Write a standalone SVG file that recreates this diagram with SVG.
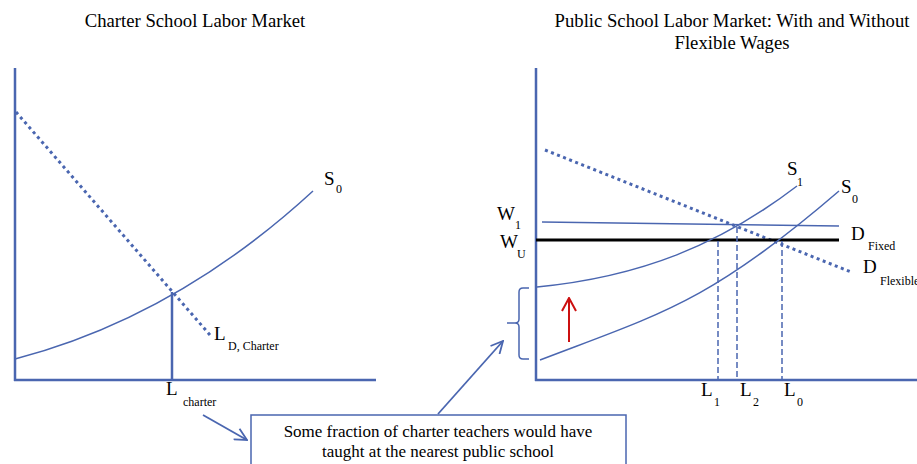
<svg xmlns="http://www.w3.org/2000/svg" width="917" height="464" viewBox="0 0 917 464">
<style>
  text { font-family: "Liberation Serif", "Times New Roman", serif; fill: #000; }
  .title { font-size: 18.7px; text-anchor: middle; }
  .lbl { font-size: 19px; }
  .sub { font-size: 12px; }
  .axis { stroke: #4a66b0; stroke-width: 2.5; fill: none; }
  .curve { stroke: #4a66b0; stroke-width: 1.5; fill: none; }
  .dotted { stroke: #4a66b0; stroke-width: 3; stroke-dasharray: 3 3.5; fill: none; }
  .dashed { stroke: #4a66b0; stroke-width: 1.5; stroke-dasharray: 6 3; fill: none; }
  .box { stroke: #4a66b0; stroke-width: 1.5; fill: #fff; }
  .conn { stroke: #4a66b0; stroke-width: 1.8; fill: none; }
  .box-text { font-size: 17px; text-anchor: middle; }
</style>
<defs>
  <marker id="open-arrow" viewBox="0 0 14 14" refX="13" refY="7" markerWidth="14" markerHeight="14" markerUnits="userSpaceOnUse" orient="auto">
    <polyline points="1,1 13,7 1,13" fill="none" stroke="#4a66b0" stroke-width="1.8"/>
  </marker>
  <marker id="red-arrow" viewBox="0 0 16 16" refX="15" refY="8" markerWidth="16" markerHeight="16" markerUnits="userSpaceOnUse" orient="auto">
    <polyline points="2,1 15,8 2,15" fill="none" stroke="#cc1010" stroke-width="2"/>
  </marker>
</defs>

<g id="titles">
  <text class="title" x="195" y="27">Charter School Labor Market</text>
  <text class="title" x="732" y="27">Public School Labor Market: With and Without</text>
  <text class="title" x="732" y="49">Flexible Wages</text>
</g>

<g id="charter-market">
  <g id="charter-axes">
    <line class="axis" x1="15" y1="68" x2="15" y2="381"/>
    <line class="axis" x1="14" y1="380" x2="376" y2="380"/>
  </g>
  <g id="charter-demand">
    <line class="dotted" x1="16" y1="112" x2="210" y2="335"/>
    <text class="lbl" x="214" y="340">L</text>
    <text class="sub" x="228" y="350">D, Charter</text>
  </g>
  <g id="charter-supply">
    <path class="curve" d="M15,359 Q176,317 313,191"/>
    <text class="lbl" x="324" y="185">S</text>
    <text class="sub" x="336" y="193">0</text>
  </g>
  <g id="charter-quantity">
    <line class="axis" x1="172" y1="292" x2="172" y2="380" stroke-width="2"/>
    <text class="lbl" x="166" y="395">L</text>
    <text class="sub" x="183" y="406">charter</text>
  </g>
</g>

<g id="public-market">
  <g id="public-axes">
    <line class="axis" x1="536" y1="68" x2="536" y2="381"/>
    <line class="axis" x1="535" y1="380" x2="917" y2="380"/>
  </g>
  <g id="d-flexible">
    <line class="dotted" x1="545" y1="150" x2="851" y2="272"/>
    <text class="lbl" x="863" y="273">D</text>
    <text class="sub" x="880" y="285">Flexible</text>
  </g>
  <g id="w1-line">
    <line class="curve" x1="542" y1="222" x2="839" y2="226"/>
    <text class="lbl" x="497" y="220">W</text>
    <text class="sub" x="515" y="229">1</text>
  </g>
  <g id="d-fixed">
    <line x1="536" y1="240" x2="839" y2="240" stroke="#000" stroke-width="3"/>
    <text class="lbl" x="851" y="240">D</text>
    <text class="sub" x="868" y="250">Fixed</text>
  </g>
  <g id="wu-label">
    <text class="lbl" x="500" y="248">W</text>
    <text class="sub" x="517" y="258">U</text>
  </g>
  <g id="s1-curve">
    <path class="curve" d="M537,287 C640,277 720,245 797,186"/>
    <text class="lbl" x="787" y="175">S</text>
    <text class="sub" x="797" y="186">1</text>
  </g>
  <g id="s0-curve">
    <path class="curve" d="M540,360 C660,314 709,303 839,191"/>
    <text class="lbl" x="841" y="193">S</text>
    <text class="sub" x="852" y="203">0</text>
  </g>
  <g id="l1">
    <line class="dashed" x1="718" y1="241" x2="718" y2="379"/>
    <text class="lbl" x="701" y="396">L</text>
    <text class="sub" x="714" y="406">1</text>
  </g>
  <g id="l2">
    <line class="dashed" x1="737" y1="227" x2="737" y2="379"/>
    <text class="lbl" x="740" y="396">L</text>
    <text class="sub" x="753" y="406">2</text>
  </g>
  <g id="l0">
    <line class="dashed" x1="782" y1="241" x2="782" y2="379"/>
    <text class="lbl" x="784" y="396">L</text>
    <text class="sub" x="797" y="406">0</text>
  </g>
  <g id="brace">
    <path class="curve" d="M529,288 L523,288 Q519,288 519,292 L519,319 Q519,323 515,323 L507,323 L515,323 Q519,323 519,327 L519,355 Q519,359 523,359 L529,359"/>
  </g>
  <g id="shift-arrow">
    <line x1="569" y1="342" x2="569" y2="298" stroke="#cc1010" stroke-width="2" marker-end="url(#red-arrow)"/>
  </g>
</g>

<g id="callout">
  <rect class="box" x="251" y="415" width="375" height="60"/>
  <text class="box-text" x="438" y="437">Some fraction of charter teachers would have</text>
  <text class="box-text" x="438" y="457">taught at the nearest public school</text>
</g>

<g id="connectors">
  <line class="conn" x1="203" y1="415" x2="247" y2="440" marker-end="url(#open-arrow)"/>
  <line class="conn" x1="438" y1="414" x2="503" y2="341" marker-end="url(#open-arrow)"/>
</g>
</svg>
